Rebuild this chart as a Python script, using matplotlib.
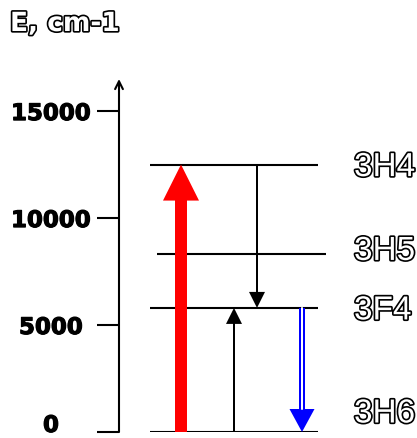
import matplotlib
matplotlib.use("Agg")
import matplotlib.pyplot as plt
import matplotlib.patheffects as pe
import matplotlib.transforms as mtransforms

# Energy levels of Tm3+ (cm-1)
level_names = ["3H6", "3F4", "3H5", "3H4"]
level_energies = [0, 5800, 8300, 12500]

# Transitions: (start energy, end energy)
pump = (0, 12500)          # red pump absorption
relax_down = (12500, 5800)  # cross-relaxation, down
relax_up = (0, 5800)        # cross-relaxation, up
emission = (5800, 0)        # 3F4 -> 3H6 emission

yticks = [0, 5000, 10000, 15000]
ytick_labels = ["0", "5000", "10000", "15000"]
ylabel_text = "E, cm-1"

W, H, DPI = 417, 439, 100
PX = 72.0 / DPI  # points per pixel

fig = plt.figure(figsize=(W / DPI, H / DPI), dpi=DPI)
ax_left, ax_right, ax_bottom, ax_top = 119, 417, 433, 80
ax = fig.add_axes([ax_left / W, (H - ax_bottom) / H,
                   (ax_right - ax_left) / W, (ax_bottom - ax_top) / H])
ax.set_xlim(0, 1)
ax.set_ylim(0, 16500)
for s in ax.spines.values():
    s.set_visible(False)
ax.set_xticks([])

# vertical energy axis with arrow head
ax.annotate("", xy=(0, 1), xytext=(0, 0), xycoords="axes fraction",
            arrowprops=dict(arrowstyle="->", color="black", lw=1.5,
                            mutation_scale=14, shrinkA=0, shrinkB=0),
            annotation_clip=False)

ax.set_yticks(yticks)
ax.set_yticklabels(ytick_labels)
ax.tick_params(axis="y", direction="out", length=22 * PX, width=1.5,
               pad=46 * PX, labelsize=16.5)
for lbl in ax.get_yticklabels():
    lbl.set_horizontalalignment("center")
    lbl.set_fontweight("bold")
    lbl.set_family("DejaVu Sans")
    lbl.set_path_effects([pe.withStroke(linewidth=0.8, foreground="black")])
# lift the bottom label a little so it stays inside the figure
zero_lbl = ax.get_yticklabels()[0]
zero_lbl.set_transform(zero_lbl.get_transform() +
                       mtransforms.ScaledTranslation(0, 9 / DPI,
                                                     fig.dpi_scale_trans))

# level lines
def xf(px):
    return (px - ax_left) / (ax_right - ax_left)

level_spans = {"3H6": (150, 318), "3F4": (150, 318),
               "3H5": (157, 326), "3H4": (150, 318)}
label_offsets = {"3H6": 18, "3F4": -3, "3H5": 3, "3H4": -3}  # pixels upward
outline = [pe.withStroke(linewidth=2.4, foreground="black")]
for name, e in zip(level_names, level_energies):
    x0, x1 = level_spans[name]
    ax.plot([xf(x0), xf(x1)], [e, e], color="black", lw=1.5,
            solid_capstyle="butt")
    ax.annotate(name, xy=(xf(354), e), xytext=(0, label_offsets[name] * PX),
                textcoords="offset points", ha="left", va="center",
                fontsize=24, color="white", family="Liberation Sans",
                path_effects=outline, annotation_clip=False)


def arrow(x_px, span, color, tail, head_w, head_l):
    scale = head_l
    style = "simple,head_length=1,head_width=%.3f,tail_width=%.3f" % (
        head_w / scale, tail / scale)
    ax.annotate("", xy=(xf(x_px), span[1]), xytext=(xf(x_px), span[0]),
                arrowprops=dict(arrowstyle=style, mutation_scale=scale * PX,
                                facecolor=color, edgecolor="none", lw=0,
                                shrinkA=0, shrinkB=0),
                annotation_clip=False)


arrow(181, pump, "#ff0000", 12, 36, 36)
arrow(257, relax_down, "black", 2, 16, 16)
arrow(234, relax_up, "black", 2, 16, 16)
arrow(302, emission, "#0000ff", 6, 25, 23)
# hollow double-line shaft of the emission arrow
ax.annotate("", xy=(xf(302), emission[1]), xytext=(xf(302), emission[0]),
            arrowprops=dict(arrowstyle="-", color="white", lw=2 * PX,
                            shrinkA=0, shrinkB=23 * PX),
            annotation_clip=False)

fig.text(10 / W, 1 - 25 / H, ylabel_text, ha="left", va="center",
         fontsize=19, fontweight="bold", color="white", family="DejaVu Sans",
         path_effects=[pe.withStroke(linewidth=2.4, foreground="black")])

fig.savefig("out.png", dpi=DPI)
